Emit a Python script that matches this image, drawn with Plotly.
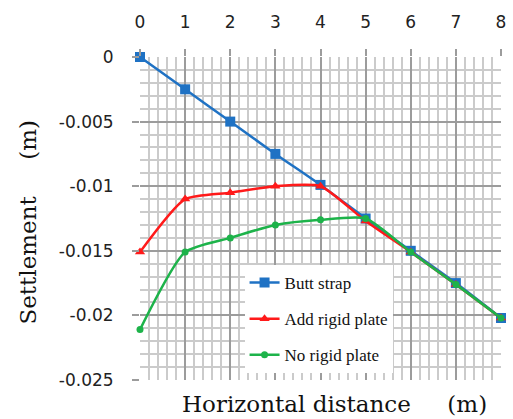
import plotly.graph_objects as go

x_vals = [0, 1, 2, 3, 4, 5, 6, 7, 8]
butt_strap = [0, -0.0025, -0.005, -0.0075, -0.0099, -0.0125, -0.015, -0.0175, -0.0202]
add_rigid = [-0.0151, -0.011, -0.0105, -0.0100, -0.0100, -0.0127, -0.0151, -0.0176, -0.0202]
no_rigid = [-0.0211, -0.0151, -0.0140, -0.0130, -0.0126, -0.0125, -0.0151, -0.0176, -0.0202]
x_ticks = [0, 1, 2, 3, 4, 5, 6, 7, 8]
y_ticks = [0, -0.005, -0.01, -0.015, -0.02, -0.025]
y_tick_text = ["0", "-0.005", "-0.01", "-0.015", "-0.02", "-0.025"]

BLUE = "#1f72c4"
RED = "#ff1a1a"
GREEN = "#1db34a"

fig = go.Figure()
fig.add_trace(go.Scatter(
    x=x_vals, y=butt_strap, name="Butt strap", mode="lines+markers",
    line=dict(color=BLUE, width=2.5, shape="spline", smoothing=0.6),
    marker=dict(symbol="square", size=10, color=BLUE),
    cliponaxis=False, legendgroup="a"))
fig.add_trace(go.Scatter(
    x=x_vals, y=add_rigid, name="Add rigid plate", mode="lines+markers",
    line=dict(color=RED, width=2.5, shape="spline", smoothing=0.6),
    marker=dict(symbol="triangle-up", size=9, color=RED),
    cliponaxis=False, legendgroup="b"))
fig.add_trace(go.Scatter(
    x=x_vals, y=no_rigid, name="No rigid plate", mode="lines+markers",
    line=dict(color=GREEN, width=2.5, shape="spline", smoothing=0.6),
    marker=dict(symbol="circle", size=7, color=GREEN),
    cliponaxis=False, legendgroup="c"))

MAJOR = "#9c9c9c"
MINOR = "#cbcbcb"

fig.update_xaxes(
    range=[0, 8], side="top", tickvals=x_ticks, ticks="outside", ticklen=7,
    tickcolor=MAJOR, tickwidth=2, ticklabelstandoff=14,
    showgrid=True, gridcolor=MAJOR, gridwidth=2,
    minor=dict(dtick=0.2, showgrid=True, gridcolor=MINOR, gridwidth=2),
    zeroline=False, showline=False,
    tickfont=dict(family="DejaVu Sans", size=17, color="#222"))
fig.update_yaxes(
    range=[-0.025, 0], tickvals=y_ticks, ticktext=y_tick_text, ticks="outside",
    ticklen=7, tickcolor=MAJOR, tickwidth=2, ticklabelstandoff=15,
    showgrid=True, gridcolor=MAJOR, gridwidth=2,
    minor=dict(dtick=0.001, showgrid=True, gridcolor=MINOR, gridwidth=2),
    zeroline=False, showline=False,
    tickfont=dict(family="DejaVu Sans", size=17, color="#222"))

fig.add_annotation(
    text="Horizontal distance\u00a0\u00a0\u00a0\u00a0\u00a0(m)", xref="paper", yref="paper",
    x=(337 - 140) / 366, y=(380 - 404) / 323, xanchor="center", yanchor="middle",
    showarrow=False, font=dict(family="DejaVu Serif", size=23, color="#111"))
fig.add_annotation(
    text="Settlement\u00a0\u00a0\u00a0\u00a0\u00a0(m)", xref="paper", yref="paper",
    x=(26 - 140) / 366, y=(380 - 222) / 323, xanchor="center", yanchor="middle",
    textangle=-90, showarrow=False,
    font=dict(family="DejaVu Serif", size=23, color="#111"))

fig.update_layout(
    width=513, height=419,
    margin=dict(l=140, r=7, t=57, b=39),
    paper_bgcolor="white", plot_bgcolor="white",
    showlegend=True,
    legend=dict(
        x=(246 - 140) / 366, y=(380 - 265) / 323, xanchor="left", yanchor="top",
        bgcolor="white", borderwidth=0, tracegroupgap=11, traceorder="grouped",
        font=dict(family="Liberation Serif", size=17, color="#111")),
)

fig.write_html("out.html")
